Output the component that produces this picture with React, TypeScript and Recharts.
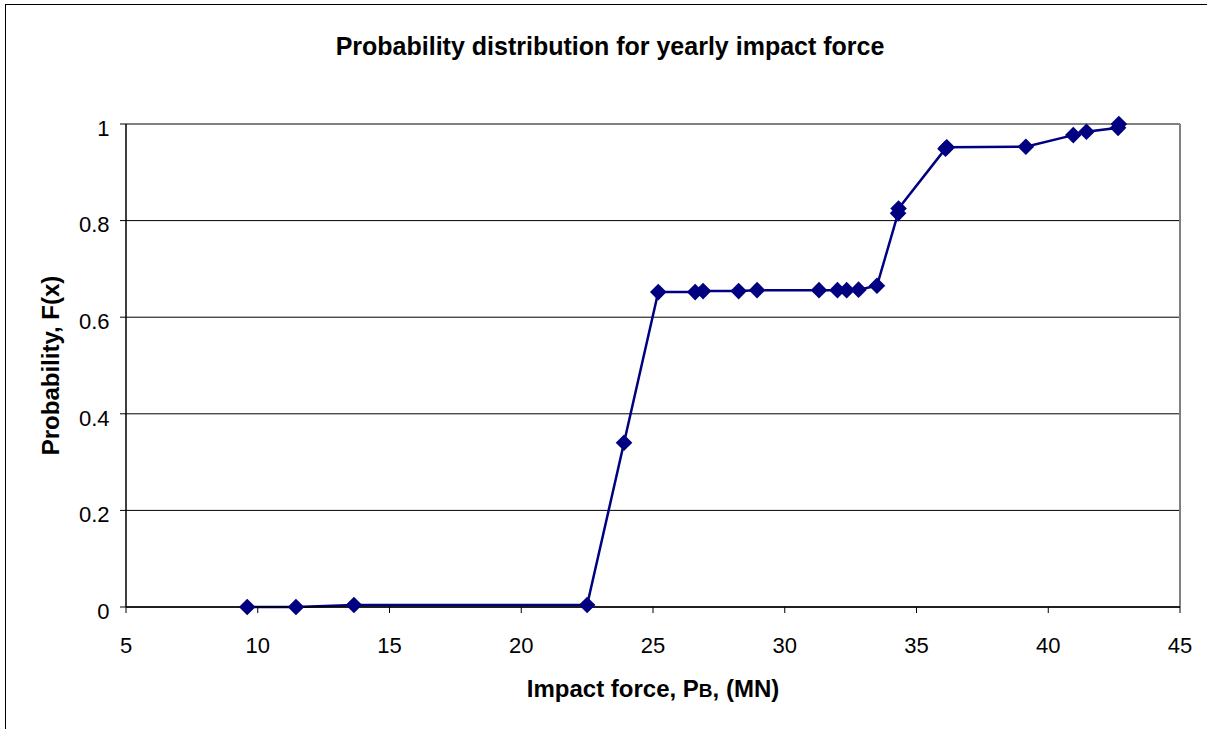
import { LineChart, Line, XAxis, YAxis, CartesianGrid, ReferenceLine, Label } from 'recharts';

// impact force P_B (MN) and cumulative probability F(x)
const forceMN = [
  9.6, 11.45, 13.65, 22.5, 23.9, 25.2, 26.6, 26.9, 28.25, 28.95, 31.3, 32.0,
  32.35, 32.8, 33.5, 34.3, 34.32, 36.1, 36.15, 39.15, 40.95, 41.45, 42.65, 42.68,
];
const probability = [
  0, 0, 0.004, 0.004, 0.34, 0.652, 0.652, 0.654, 0.654, 0.656, 0.656, 0.656,
  0.656, 0.657, 0.665, 0.815, 0.825, 0.949, 0.952, 0.953, 0.977, 0.984, 0.992, 1.0,
];
const xTicks = [5, 10, 15, 20, 25, 30, 35, 40, 45];
const yTicks = [0, 0.2, 0.4, 0.6, 0.8, 1];

const data = forceMN.map((x, i) => ({ x, p: probability[i] }));

const FONT = '"Liberation Sans", Arial, sans-serif';
const NAVY = '#000080';

const Diamond = (props: any) => {
  const { cx, cy } = props;
  if (cx == null || cy == null) return null;
  const r = 8.3;
  return (
    <path
      d={`M${cx} ${cy - r}L${cx + r} ${cy}L${cx} ${cy + r}L${cx - r} ${cy}Z`}
      fill={NAVY}
    />
  );
};

const XTick = (props: any) => {
  const { x, payload } = props;
  return (
    <text x={x} y={652.5} textAnchor="middle" fontSize={22} fontFamily={FONT} fill="#000">
      {payload.value}
    </text>
  );
};

const YTick = (props: any) => {
  const { y, payload } = props;
  return (
    <text x={109.5} y={y + 11.7} textAnchor="end" fontSize={22} fontFamily={FONT} fill="#000">
      {payload.value}
    </text>
  );
};

export default function App() {
  return (
    <div style={{ position: 'relative', width: 1207, height: 729, overflow: 'hidden', background: '#fff' }}>
      <style>{'body{margin:0}'}</style>
      <svg width={1207} height={729} style={{ position: 'absolute', left: 0, top: 0 }}>
        <rect x={5.5} y={4.5} width={2000} height={2000} fill="none" stroke="#000" strokeWidth={1} />
        <text x={610} y={55} textAnchor="middle" fontSize={25} fontWeight="bold" fontFamily={FONT} fill="#000">
          Probability distribution for yearly impact force
        </text>
      </svg>
      <div style={{ position: 'absolute', left: 0, top: 0 }}>
        <LineChart width={1207} height={729} data={data} margin={{ top: 124, right: 27, bottom: 0, left: 0 }}>
          <CartesianGrid vertical={false} stroke="#000" strokeWidth={1} />
          <XAxis
            type="number"
            dataKey="x"
            domain={[5, 45]}
            ticks={xTicks}
            height={122}
            tickSize={6}
            axisLine={{ stroke: '#000', strokeWidth: 1.5 }}
            tickLine={{ stroke: '#000', strokeWidth: 1 }}
            tick={<XTick />}
          >
            <Label
              content={(p: any) => {
                const vb = p.viewBox;
                return (
                  <text
                    x={vb.x + vb.width / 2}
                    y={696.7}
                    textAnchor="middle"
                    fontSize={24}
                    fontWeight="bold"
                    fontFamily={FONT}
                    fill="#000"
                  >
                    Impact force, P<tspan fontSize={19}>B</tspan>, (MN)
                  </text>
                );
              }}
            />
          </XAxis>
          <YAxis
            type="number"
            domain={[0, 1]}
            ticks={yTicks}
            width={126}
            tickSize={6}
            axisLine={{ stroke: '#000', strokeWidth: 1.5 }}
            tickLine={{ stroke: '#000', strokeWidth: 1 }}
            tick={<YTick />}
          >
            <Label
              content={(p: any) => {
                const vb = p.viewBox;
                const cy = vb.y + vb.height / 2;
                return (
                  <text
                    x={58.5}
                    y={cy}
                    transform={`rotate(-90, 58.5, ${cy})`}
                    textAnchor="middle"
                    fontSize={24}
                    fontWeight="bold"
                    fontFamily={FONT}
                    fill="#000"
                  >
                    Probability, F(x)
                  </text>
                );
              }}
            />
          </YAxis>
          <ReferenceLine y={1} stroke="#808080" strokeWidth={2} />
          <ReferenceLine x={45} stroke="#808080" strokeWidth={2} />
          <Line
            type="linear"
            dataKey="p"
            stroke={NAVY}
            strokeWidth={2.5}
            dot={<Diamond />}
            activeDot={false}
            isAnimationActive={false}
          />
        </LineChart>
      </div>
    </div>
  );
}
